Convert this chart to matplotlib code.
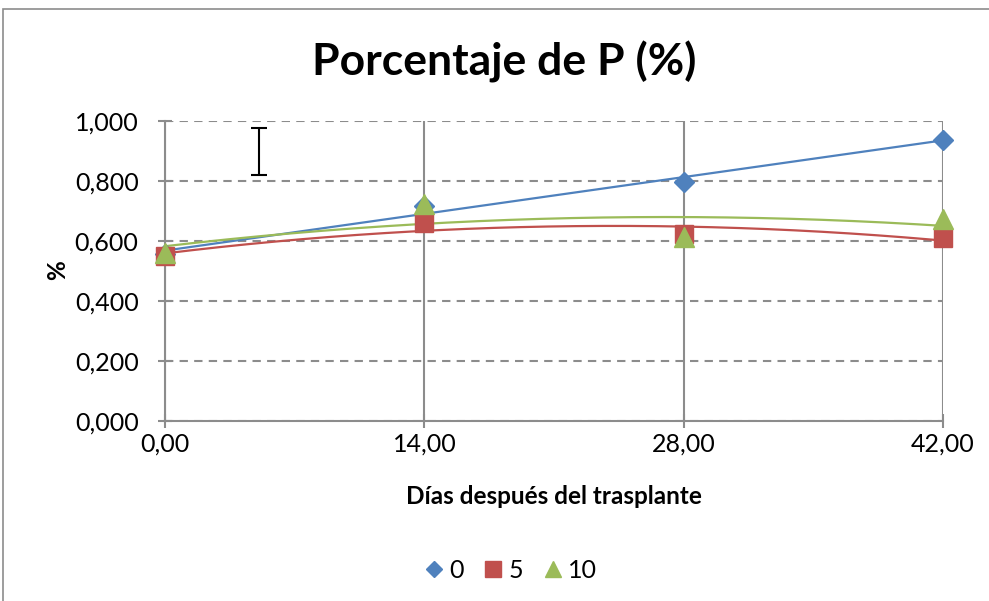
import numpy as np
import matplotlib
matplotlib.use("Agg")
import matplotlib.pyplot as plt
from matplotlib.patches import Rectangle
from matplotlib.ticker import FuncFormatter

plt.rcParams['font.family'] = ['Lato', 'DejaVu Sans']

dias = [0, 14, 28, 42]
series = ['0', '5', '10']
p_0 = [0.555, 0.718, 0.797, 0.937]
p_5 = [0.550, 0.660, 0.622, 0.610]
p_10 = [0.560, 0.725, 0.612, 0.673]

colors = ['#4F81BD', '#C0504D', '#9BBB59']
markers = ['D', 's', '^']
msizes = [10, 13, 14]

fig = plt.figure(figsize=(9.89, 6.01), dpi=100)
ax = fig.add_axes([165 / 989, 1 - 421 / 601, 778 / 989, 300 / 601])

# outer chart border
fig.patches.append(Rectangle((3 / 989, -0.05), 1.1, 1 - 9 / 601 + 0.05,
                             transform=fig.transFigure, fill=False,
                             edgecolor='#8C8C8C', linewidth=1.2))

xs = np.linspace(0, 42, 200)
for vals, name, c, m, ms in zip([p_0, p_5, p_10], series, colors, markers, msizes):
    deg = 1 if name == '0' else 2
    coef = np.polyfit(dias, vals, deg)
    ax.plot(xs, np.polyval(coef, xs), color=c, linewidth=1.6, zorder=3)
    ax.plot(dias, vals, linestyle='none', marker=m, markersize=ms, color=c,
            label=name, zorder=4, clip_on=False)

# LSD bar
ax.errorbar([5.1], [0.899], yerr=[0.078], color='black', capsize=6,
            elinewidth=1.5, capthick=1.5, zorder=5)

ax.set_xlim(0, 42)
ax.set_ylim(0, 1.0)
ax.set_xticks(dias)
ax.set_yticks(np.arange(0, 1.01, 0.2))
ax.xaxis.set_major_formatter(FuncFormatter(lambda v, p: f"{v:.2f}".replace('.', ',')))
ax.yaxis.set_major_formatter(FuncFormatter(lambda v, p: f"{v:.3f}".replace('.', ',')))
ax.tick_params(labelsize=18, length=10, width=1.5, color='#8C8C8C', direction='inout')
ax.tick_params(axis='y', pad=14)
ax.tick_params(axis='x', pad=3)

ax.yaxis.grid(True, linestyle=(0, (4, 3)), color='#8C8C8C', linewidth=1.5)
ax.xaxis.grid(True, linestyle='-', color='#8C8C8C', linewidth=1.5)
ax.set_axisbelow(True)
for s in ['top', 'right']:
    ax.spines[s].set_visible(False)
for s in ['left', 'bottom']:
    ax.spines[s].set_color('#8C8C8C')
    ax.spines[s].set_linewidth(1.5)

fig.text(504 / 989, 1 - 62 / 601, 'Porcentaje de P (%)', fontsize=32,
         fontweight='bold', ha='center', va='center')
fig.text(554 / 989, 1 - 497 / 601, 'Días después del trasplante', fontsize=17.5,
         fontweight='bold', ha='center', va='center')
fig.text(58 / 989, 1 - 270 / 601, '%', fontsize=17.5, fontweight='bold',
         rotation=90, ha='center', va='center')

fig.legend(loc='center', bbox_to_anchor=(508 / 989, 1 - 570 / 601), ncol=3,
           frameon=False, fontsize=18, handletextpad=0.0, columnspacing=0.6,
           handlelength=1.2, markerscale=0.85)

fig.savefig('out.png', dpi=100)
